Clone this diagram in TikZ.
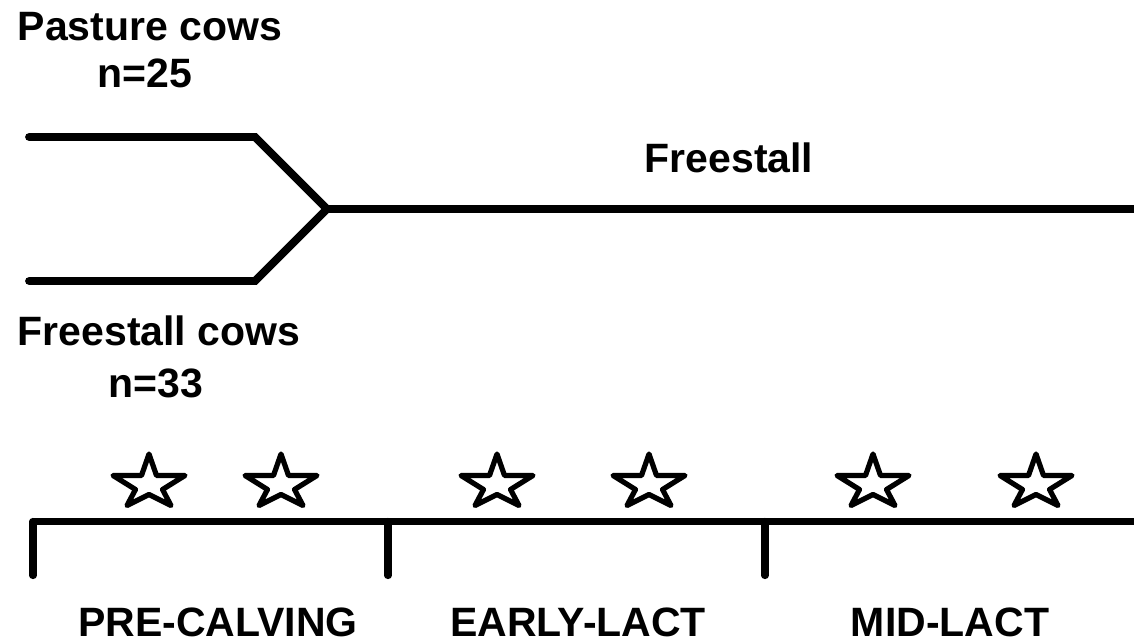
\documentclass[tikz,border=0pt]{standalone}
\usepackage{fontspec}
\setmainfont{Liberation Sans}
\begin{document}
\begin{tikzpicture}[x=1pt,y=-1pt,
  lbl/.style={font=\fontsize{41}{49}\selectfont\bfseries, inner sep=0pt, anchor=base},
  thick line/.style={line width=7.8pt, line cap=round, line join=miter},
  tickline/.style={line width=7.2pt, line cap=round},
  starline/.style={line width=5.2pt, line join=round},
  mystar/.pic={\draw[starline] (0,-28) -- (7.5,-6.5) -- (36,-6.5) -- (13.5,7.5) -- (22,23.5) -- (0,12.5) -- (-22,23.5) -- (-13.5,7.5) -- (-36,-6.5) -- (-7.5,-6.5) -- cycle;}
]
\useasboundingbox (0,0) rectangle (1134,644);
% labels
\node[lbl] (past) at (150,41) {Pasture cows};
\node[lbl] (n25) at (145,88) {n=25};
\node[lbl] (free) at (729,173) {Freestall};
\node[lbl] (fcows) at (159,345) {Freestall cows};
\node[lbl] (n33) at (156,397) {n=33};
\node[lbl] (pre) at (218,636) {PRE-CALVING};
\node[lbl] (early) at (578,636) {EARLY-LACT};
\node[lbl] (mid) at (950,636) {MID-LACT};
% merging lines
\coordinate (ta) at (29,137);
\coordinate (tb) at (255,137);
\coordinate (ba) at (29,281);
\coordinate (bb) at (255,281);
\coordinate (m) at (327,209);
\coordinate (e) at (1140,209);
\draw[thick line] (ta) -- (tb) -- (m) -- (bb) -- (ba);
\draw[line width=7.8pt] (m) -- (e);
% timeline
\coordinate (t0) at (33,521.5);
\coordinate (t1) at (388,521.5);
\coordinate (t2) at (765,521.5);
\coordinate (tend) at (1140,521.5);
\draw[line width=7.8pt] (t0) -- (tend);
\draw[tickline] (t0) -- ++(0,54);
\draw[tickline] (t1) -- ++(0,54);
\draw[tickline] (t2) -- ++(0,54);
% stars
\foreach \sx in {149,281,497,649,873,1036}
  \pic at (\sx,482) {mystar};
\end{tikzpicture}
\end{document}
